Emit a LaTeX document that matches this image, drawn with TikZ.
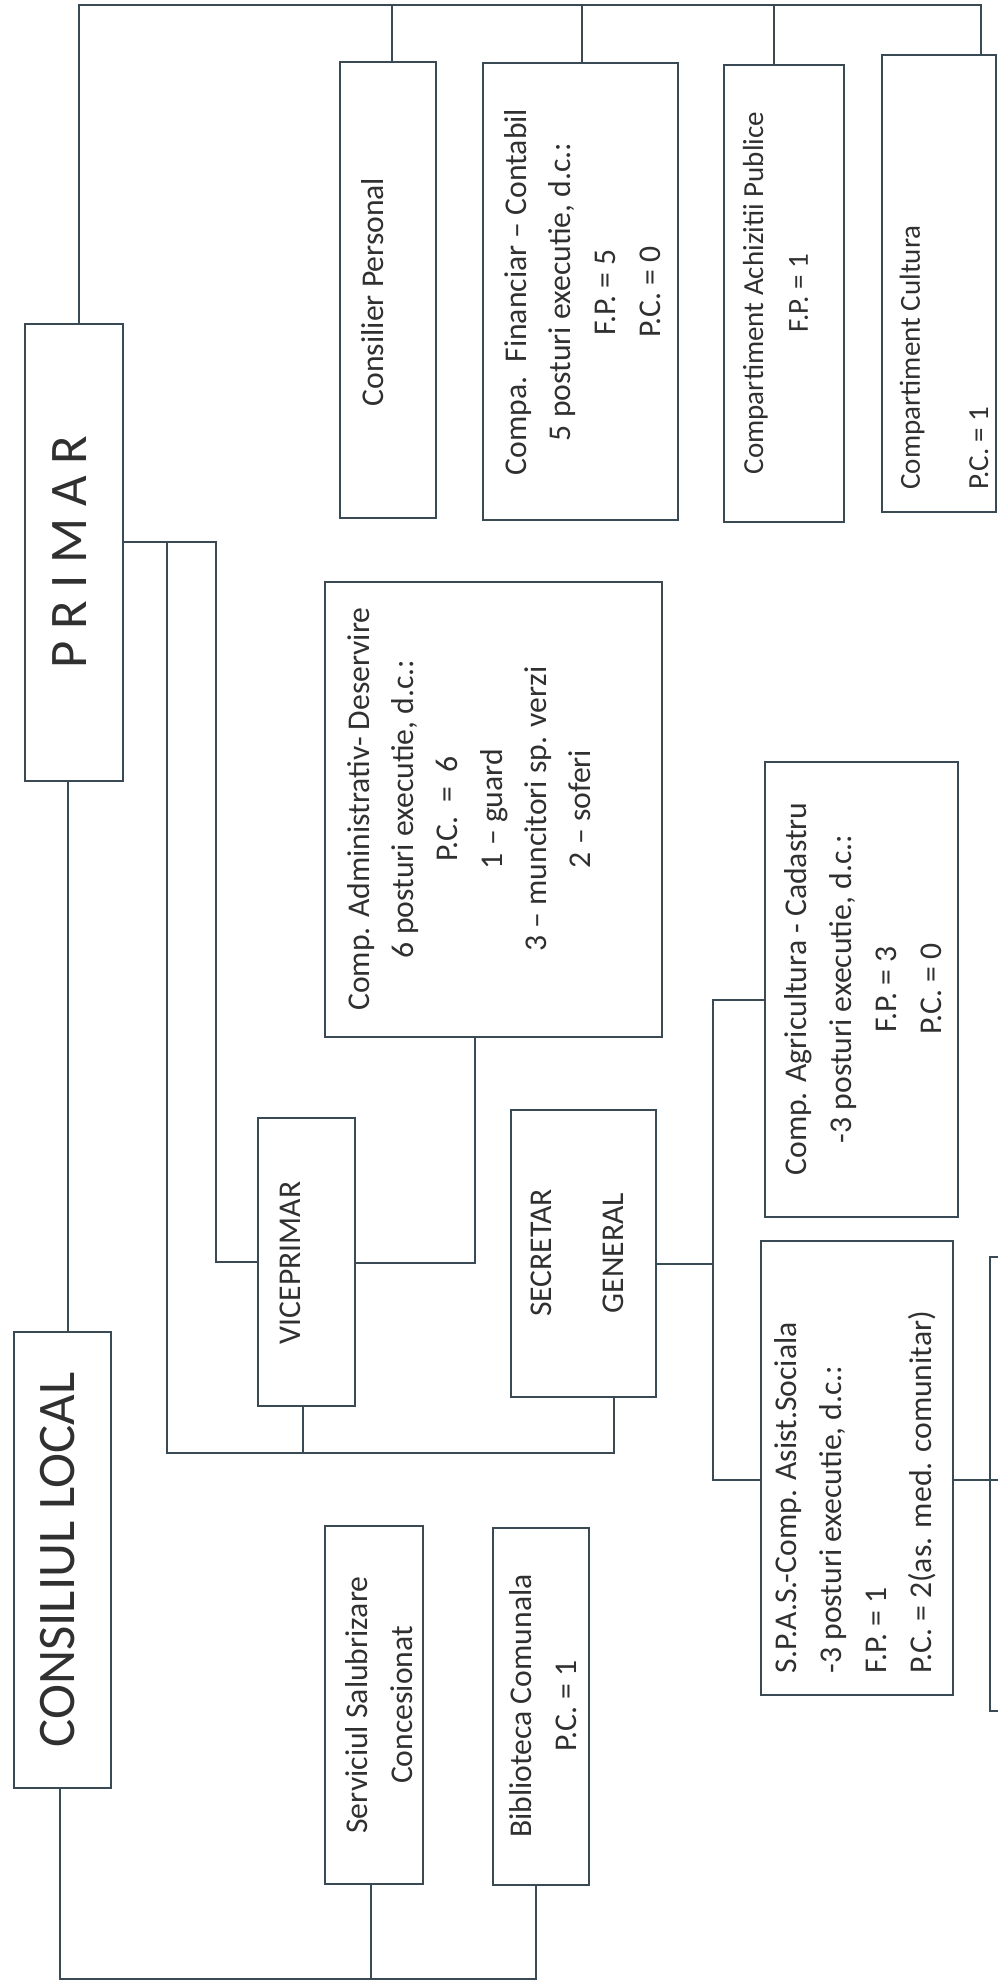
\documentclass[tikz,border=0pt]{standalone}
\usepackage{fontspec}
\setmainfont{Carlito}
\definecolor{ln}{RGB}{58,74,84}
\definecolor{tx}{RGB}{48,48,48}
\begin{document}
\begin{tikzpicture}[x=0.3788pt, y=-0.3788pt,
  box/.style={draw=ln, line width=0.8pt, rectangle, inner sep=0pt},
  sz/.style 2 args={minimum width=#1*0.3788pt, minimum height=#2*0.3788pt},
  lbl/.style={rotate=90, text=tx, inner sep=0pt, align=center, font=\fontsize{12}{17}\selectfont},
  big/.style={font=\fontsize{20}{24}\selectfont},
  conn/.style={draw=ln, line width=0.8pt}]
\useasboundingbox (0,0) rectangle (998,1986);
\clip (0,0) rectangle (998,1986);
% boxes
\node[box, sz={98}{457}] (primar) at (74,552.5) {};
\node[box, sz={97}{456}] (consiliu) at (62.5,1560) {};
\node[box, sz={96}{456}] (consilier) at (388,290) {};
\node[box, sz={195}{457}] (financiar) at (580.5,291.5) {};
\node[box, sz={120}{457}] (achizitii) at (784,293.5) {};
\node[box, sz={114}{457}] (cultura) at (939,283.5) {};
\node[box, sz={337}{455}] (admin) at (493.5,809.5) {};
\node[box, sz={97}{288}] (vice) at (306.5,1262) {};
\node[box, sz={145}{287}] (secretar) at (583.5,1253.5) {};
\node[box, sz={193}{455}] (agri) at (861.5,989.5) {};
\node[box, sz={192}{454}] (spas) at (857,1468) {};
\node[box, sz={220}{454}] (extra) at (1100,1484) {};
\node[box, sz={98}{358}] (salub) at (374,1705) {};
\node[box, sz={96}{357}] (biblio) at (541,1706.5) {};
% texts
\node[lbl, big] (tprimar) at (70,552) {P R I M A R};
\node[lbl, big] (tconsiliu) at (58,1560) {CONSILIUL LOCAL};
\node[lbl] (tconsilier) at (373,292) {Consilier Personal};
\node[lbl] (tfin) at (582.5,292) {Compa.\ \ Financiar – Contabil\\5 posturi executie, d.c.:\\F.P. = 5\\P.C. = 0};
\node[lbl, font=\fontsize{11}{17}\selectfont] (tach) at (775.5,293) {Compartiment Achizitii Publice\\F.P. = 1};
\node[lbl, font=\fontsize{11}{25.8}\selectfont, align=left, anchor=west] (tcult) at (944,490) {Compartiment Cultura\\P.C. = 1};
\node[lbl, font=\fontsize{12}{16.8}\selectfont] (tadmin) at (469,809) {Comp. Administrativ- Deservire\\6 posturi executie, d.c.:\\P.C.~ =~ 6\\1 – guard\\3 – muncitori sp. verzi\\2 – soferi};
\node[lbl] (tvice) at (290,1263) {VICEPRIMAR};
\node[lbl, font=\fontsize{12}{27.3}\selectfont] (tsec) at (577,1253) {SECRETAR\\GENERAL};
\node[lbl] (tagri) at (863,989) {Comp. Agricultura - Cadastru\\-3 posturi executie, d.c.:\\F.P. = 3\\P.C. = 0};
\node[lbl, align=left, anchor=west] (tspas) at (855.5,1674) {S.P.A.S.-Comp. Asist.Sociala\\-3 posturi executie, d.c.:\\F.P. = 1\\P.C. = 2(as. med. comunitar)};
\node[lbl] (tsal) at (379.5,1705) {Serviciul Salubrizare\\Concesionat};
\node[lbl] (tbib) at (543.5,1706) {Biblioteca Comunala\\P.C. = 1};
% connector coordinates
\coordinate (busL) at (79,5);
\coordinate (busR) at (981,5);
\coordinate (b1) at (392,5);
\coordinate (b2) at (582,5);
\coordinate (b3) at (774,5);
\coordinate (pc) at (68,0);
\coordinate (pr1) at (167,542);
\coordinate (pr2) at (216,542);
\coordinate (bb) at (167,1453);
\coordinate (vb) at (303,1453);
\coordinate (sb) at (614,1453);
\coordinate (ab) at (475,1263);
\coordinate (sh) at (713,1264);
\coordinate (sv1) at (713,1000);
\coordinate (sv2) at (713,1480);
\coordinate (sE) at (1010,1480);
\coordinate (cb) at (60,1979);
\coordinate (cbr) at (536,1979);
\coordinate (sb2) at (371,1979);
% connectors
\draw[conn] (primar.north -| busL) -- (busL) -- (busR) -- (cultura.north -| busR);
\draw[conn] (b1) -- (consilier.north -| b1);
\draw[conn] (b2) -- (financiar.north -| b2);
\draw[conn] (b3) -- (achizitii.north -| b3);
\draw[conn] (primar.south -| pc) -- (consiliu.north -| pc);
\draw[conn] (primar.east |- pr2) -- (pr2) |- (vice.west);
\draw[conn] (pr1) -- (bb) -- (sb) -- (secretar.south -| sb);
\draw[conn] (vice.south -| vb) -- (vb);
\draw[conn] (admin.south -| ab) -- (ab) -- (vice.east |- ab);
\draw[conn] (secretar.east |- sh) -- (sh);
\draw[conn] (agri.west |- sv1) -- (sv1) -- (sv2) -- (spas.west |- sv2);
\draw[conn] (spas.east |- sv2) -- (sE);
\draw[conn] (consiliu.south -| cb) -- (cb) -- (cbr) -- (biblio.south -| cbr);
\draw[conn] (salub.south -| sb2) -- (sb2);
\end{tikzpicture}
\end{document}
